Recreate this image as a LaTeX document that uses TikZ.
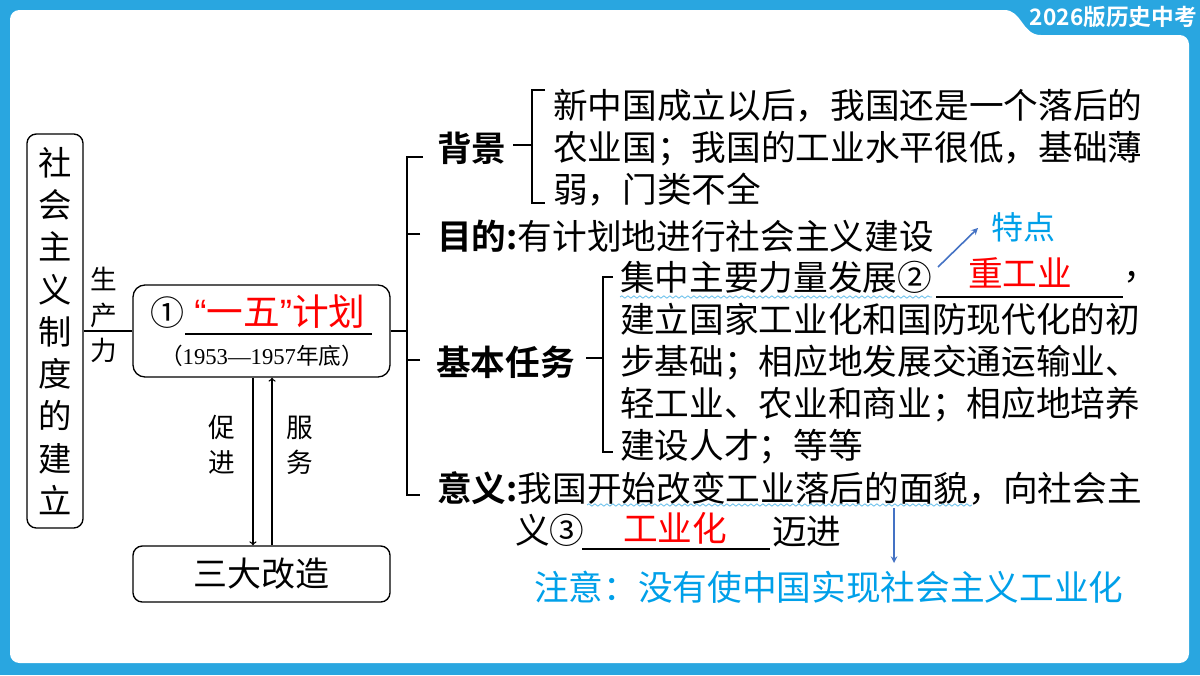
\documentclass[tikz,border=0pt]{standalone}
\usepackage{fontspec}
\setmainfont{Noto Sans CJK SC}[BoldFont={Noto Sans CJK SC Bold}]
\newfontfamily\tnr{Liberation Serif}
\newfontfamily\lsans{Liberation Sans}
\usetikzlibrary{positioning,decorations.pathmorphing}
\definecolor{framebl}{RGB}{41,166,224}
\definecolor{notebl}{RGB}{0,160,233}
\definecolor{arrowbl}{RGB}{68,114,196}
\definecolor{wavebl}{RGB}{100,190,235}
\newcommand\bodysize{\fontsize{26pt}{31.5pt}\selectfont}
\newcommand\sidesize{\fontsize{20pt}{26.5pt}\selectfont}

\begin{document}
\begin{tikzpicture}[x=0.75pt,y=-0.75pt,>=stealth,
  box/.style={draw, line width=1pt, rounded corners=7pt, inner sep=0pt},
  txt/.style={anchor=west, inner sep=0pt, font=\bodysize, align=left},
  side/.style={inner sep=0pt, align=center, font=\sidesize},
  brk/.style={line width=1.1pt},
  blank/.style={line width=1pt},
  note/.style={inner sep=0pt, text=notebl, font=\bodysize},
  wave/.style={draw=wavebl, line width=0.6pt, decorate, decoration={snake, amplitude=0.9pt, segment length=4.5pt}},]
\useasboundingbox (0,0) rectangle (1200,675);
% frame
\fill[framebl] (0,0) rectangle (1200,675);
\fill[white,rounded corners=7pt] (10,300) -- (10,10) -- (995,10) .. controls (1022,10) and (1022,35) .. (1050,35) -- (1189,35) -- (1189,663) -- (10,663) -- cycle;
\node (tag) at (1197,17) [anchor=east, inner sep=0pt, text=white, font=\fontsize{17pt}{17pt}\selectfont\bfseries] {2026版历史中考};
% left part
\node (sys) at (55,331) [box, minimum width=42pt, minimum height=295.5pt, align=center, font=\fontsize{25pt}{31.7pt}\selectfont] {社\\会\\主\\义\\制\\度\\的\\建\\立};
\node (planbox) at (261.5,331) [box, rounded corners=9pt, minimum width=192.75pt, minimum height=69pt] {};
\node (num1) at (150,313) [anchor=west, inner sep=0pt, font=\fontsize{25.5pt}{26pt}\selectfont] {①};
\node (plan) at (194,312) [anchor=west, inner sep=0pt, text=red, font=\fontsize{27.5pt}{28pt}\selectfont] {{\lsans “}一五{\lsans ”}计划};
\coordinate (u1a) at (185,334);
\coordinate (u1b) at (372,334);
\draw[blank] (u1a) -- (u1b);
\node (years) at (262,356) [inner sep=0pt, font=\fontsize{17pt}{17pt}\selectfont] {（{\tnr 1953—1957}年底）};
\node (force) at (104,315) [side] {生\\产\\力};
\draw[blank] (sys) -- (planbox);
\node (reform) at (261.5,574) [box, minimum width=192.75pt, minimum height=42pt, font=\fontsize{25.5pt}{26pt}\selectfont] {三大改造};
\draw[-to, blank] ([xshift=-6.4pt]planbox.south) -- ([xshift=-6.4pt]reform.north);
\draw[-to, blank] ([xshift=7.9pt]reform.north) -- ([xshift=7.9pt]planbox.south);
\node (promote) at (222,445) [side] {促\\进};
\node (serve) at (300,445) [side] {服\\务};
% main bracket
\coordinate (trunk) at (407,331);
\coordinate (t1) at (407,157);
\coordinate (t4) at (407,495);
\coordinate (bgtick) at (423,157);
\coordinate (aimtick) at (420,234);
\coordinate (tasktick) at (420,360);
\coordinate (sigtick) at (420,495);
\draw[brk] (planbox) -- (trunk);
\draw[brk] (bgtick) -- (t1) -- (t4) -- (sigtick);
\draw[brk] (aimtick) -- (aimtick -| trunk);
\draw[brk] (tasktick) -- (tasktick -| trunk);
% background
\node (bg) at (437,148) [txt, font=\bodysize\bfseries] {背景};
\node (bgtext) at (553,147.5) [txt] {新中国成立以后，我国还是一个落后的\\农业国；我国的工业水平很低，基础薄\\弱，门类不全};
\coordinate (bga) at (545,90);
\coordinate (bgb) at (532,90);
\coordinate (bgc) at (532,203);
\coordinate (bgd) at (545,203);
\coordinate (bgm) at (513,145);
\draw[brk] (bga) -- (bgb) -- (bgc) -- (bgd);
\draw[brk] (bgm) -- (bgm -| bgb);
% aim
\node (aim) at (437,236) [txt] {\textbf{目的:}有计划地进行社会主义建设};
\coordinate (a2s) at (938,267);
\coordinate (a2e) at (978,228);
\draw[->, arrowbl, line width=1.2pt] (a2s) -- (a2e);
\node (feat) at (1023,227) [note, font=\fontsize{24pt}{24pt}\selectfont] {特点};
% tasks
\node (task) at (436,362) [txt, font=\bodysize\bfseries] {基本任务};
\node (focus) at (620,277) [txt] {集中主要力量发展②};
\draw[wave] (620,297) -- (932,297);
\coordinate (u2a) at (936,297);
\coordinate (u2b) at (1123,297);
\draw[blank] (u2a) -- (u2b);
\node (heavy) at (1020,273) [inner sep=0pt, text=red, font=\bodysize] {重工业};
\node (comma) at (1123,277) [txt] {，};
\node (tasktext) at (620,384) [txt] {建立国家工业化和国防现代化的初\\步基础；相应地发展交通运输业、\\轻工业、农业和商业；相应地培养\\建设人才；等等};
\coordinate (tka) at (613,277);
\coordinate (tkb) at (603,277);
\coordinate (tkc) at (603,452);
\coordinate (tkd) at (613,452);
\coordinate (tkm) at (586,358);
\draw[brk] (tka) -- (tkb) -- (tkc) -- (tkd);
\draw[brk] (tkm) -- (tkm -| tkb);
% significance
\node (sig) at (437,488) [txt] {\textbf{意义:}我国开始改变工业落后的面貌，向社会主};
\draw[wave] (587,505) -- (972,505);
\node (sig2) at (515,530) [txt] {义③};
\coordinate (u3a) at (582,549);
\coordinate (u3b) at (770,549);
\draw[blank] (u3a) -- (u3b);
\node (indus) at (675,528) [inner sep=0pt, text=red, font=\bodysize] {工业化};
\node (forward) at (772,532) [txt] {迈进};
\coordinate (a3s) at (894,508);
\coordinate (a3e) at (894,563);
\draw[->, arrowbl, line width=1.2pt] (a3s) -- (a3e);
\node (notice) at (534,587) [note, anchor=west] {注意：没有使中国实现社会主义工业化};
\end{tikzpicture}
\end{document}
